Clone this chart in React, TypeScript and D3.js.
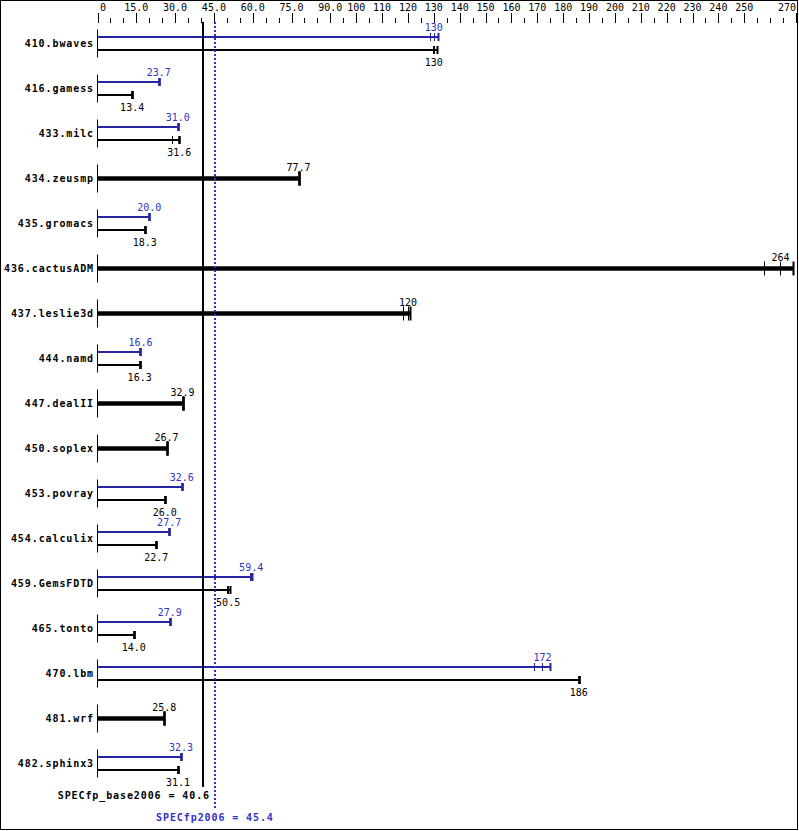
import React from "react";
import * as d3 from "d3";

const benchmarks = [
  "410.bwaves", "416.gamess", "433.milc", "434.zeusmp", "435.gromacs",
  "436.cactusADM", "437.leslie3d", "444.namd", "447.dealII", "450.soplex",
  "453.povray", "454.calculix", "459.GemsFDTD", "465.tonto", "470.lbm",
  "481.wrf", "482.sphinx3",
];

const baseMedian = [130, 13.4, 31.6, 77.7, 18.3, 264, 120, 16.3, 32.9, 26.7, 26.0, 22.7, 50.5, 14.0, 186, 25.8, 31.1];
const peakMedian: (number | null)[] = [130, 23.7, 31.0, null, 20.0, null, null, 16.6, null, null, 32.6, 27.7, 59.4, 27.9, 172, null, 32.3];

const baseRuns = [
  [129.8, 130, 131.2],
  [13.4, 13.4, 13.4],
  [28.9, 31.6, 31.6],
  [77.7, 77.7, 77.7],
  [18.3, 18.3, 18.3],
  [257.5, 264, 268.8],
  [118.1, 120, 120.9],
  [16.3, 16.3, 16.3],
  [32.9, 32.9, 32.9],
  [26.7, 26.7, 26.7],
  [26.0, 26.0, 26.0],
  [22.7, 22.7, 22.7],
  [50.0, 50.5, 51.3],
  [14.0, 14.0, 14.0],
  [186, 186, 186],
  [25.8, 25.8, 25.8],
  [31.1, 31.1, 31.1],
];

const peakRuns: (number[] | null)[] = [
  [128.6, 130, 131.8],
  [23.7, 23.7, 23.7],
  [31.0, 31.0, 31.0],
  null,
  [20.0, 20.0, 20.0],
  null,
  null,
  [16.6, 16.6, 16.6],
  null,
  null,
  [32.6, 32.6, 32.6],
  [27.7, 27.7, 27.7],
  [59.0, 59.4, 59.7],
  [27.9, 27.9, 27.9],
  [168.6, 172, 175.0],
  null,
  [32.3, 32.3, 32.3],
];

const tickValues = [0, 15, 30, 45, 60, 75, 90, 100, 110, 120, 130, 140, 150, 160, 170, 180, 190, 200, 210, 220, 230, 240, 250, 270];
const tickLabels = ["0", "15.0", "30.0", "45.0", "60.0", "75.0", "90.0", "100", "110", "120", "130", "140", "150", "160", "170", "180", "190", "200", "210", "220", "230", "240", "250", "270"];
const minorStep = 5;

const baseScore = 40.6;
const peakScore = 45.4;
const baseScoreLabel = "SPECfp_base2006 = 40.6";
const peakScoreLabel = "SPECfp2006 = 45.4";

const W = 799;
const H = 831;
const BLACK = "#000000";
const BLUE_BAR = "#2626a2";
const BLUE_TEXT = "#3232c4";
const BLUE_DOT = "#2e2ec8";
const MONO = "'DejaVu Sans Mono', 'Liberation Mono', monospace";

export default function App() {
  const x = d3.scaleLinear().domain([0, 270]).range([97.5, 796]);
  const rowY = d3.scaleLinear().domain([0, 1]).range([43.5, 88.5]);
  const fmt = d3.format(".3r");
  const x0 = x(0);

  const minorTicks = d3.range(0, 270 + 0.001, minorStep).filter((v) => !tickValues.includes(v));

  const runTicks = (runs: number[], y: number, half: number, color: string, key: string) => {
    const mx = d3.max(runs) as number;
    return runs.map((r, j) => (
      <line
        key={key + j}
        x1={Math.round(x(r)) + 0.5}
        x2={Math.round(x(r)) + 0.5}
        y1={y - half}
        y2={y + half}
        stroke={color}
        strokeWidth={r === mx ? 2 : 1}
      />
    ));
  };

  return (
    <svg
      width={W}
      height={H}
      style={{ position: "absolute", left: 0, top: 0, background: "#fff" }}
      fontFamily={MONO}
    >
      <rect x={0} y={0} width={W} height={H} fill="#fff" />
      <rect x={0.5} y={0.5} width={797} height={829} fill="none" stroke={BLACK} strokeWidth={1} />

      {/* top axis */}
      {tickValues.map((v, i) => (
        <line key={"mt" + i} x1={Math.round(x(v)) + 0.5} x2={Math.round(x(v)) + 0.5} y1={13} y2={23} stroke={BLACK} strokeWidth={1} />
      ))}
      {minorTicks.map((v, i) => (
        <line key={"nt" + i} x1={Math.round(x(v)) + 0.5} x2={Math.round(x(v)) + 0.5} y1={18} y2={23} stroke={BLACK} strokeWidth={1} />
      ))}
      {tickValues.map((v, i) => {
        const first = i === 0;
        const last = i === tickValues.length - 1;
        return (
          <text
            key={"tl" + i}
            x={first ? x(v) + 2.5 : last ? x(v) : x(v)}
            y={10.5}
            fontSize={10}
            textAnchor={first ? "start" : last ? "end" : "middle"}
            fill={BLACK}
          >
            {tickLabels[i]}
          </text>
        );
      })}

      {/* rows */}
      {benchmarks.map((name, i) => {
        const c = rowY(i);
        const pk = peakRuns[i];
        const bRuns = baseRuns[i];
        const bMax = d3.max(bRuns) as number;
        return (
          <g key={name}>
            <text
              x={94}
              y={c + 3.5}
              fontSize={10}
              fontWeight="bold"
              letterSpacing={0.9}
              textAnchor="end"
              fill={BLACK}
            >
              {name}
            </text>
            <line x1={x0} x2={x0} y1={c - 14} y2={c + 14} stroke={BLACK} strokeWidth={1} />
            {pk ? (
              <g>
                <line x1={x0} x2={x(d3.max(pk) as number)} y1={c - 6.5} y2={c - 6.5} stroke={BLUE_BAR} strokeWidth={2} />
                {runTicks(pk, c - 6.5, 4, BLUE_BAR, "p")}
                <text x={x(peakMedian[i] as number)} y={c - 13} fontSize={10} textAnchor="middle" fill={BLUE_TEXT}>
                  {fmt(peakMedian[i] as number)}
                </text>
                <line x1={x0} x2={x(bMax)} y1={c + 6.5} y2={c + 6.5} stroke={BLACK} strokeWidth={2} />
                {runTicks(bRuns, c + 6.5, 4, BLACK, "b")}
                <text x={x(baseMedian[i])} y={c + 22} fontSize={10} textAnchor="middle" fill={BLACK}>
                  {fmt(baseMedian[i])}
                </text>
              </g>
            ) : (
              <g>
                <line x1={x0} x2={x(bMax)} y1={c} y2={c} stroke={BLACK} strokeWidth={4.5} />
                {runTicks(bRuns, c, 7, BLACK, "s")}
                <text x={x(baseMedian[i])} y={c - 7.5} fontSize={10} textAnchor="middle" fill={BLACK}>
                  {fmt(baseMedian[i])}
                </text>
              </g>
            )}
          </g>
        );
      })}

      {/* reference lines */}
      <line x1={Math.round(x(baseScore))} x2={Math.round(x(baseScore))} y1={22} y2={787} stroke={BLACK} strokeWidth={2} />
      <line
        x1={Math.round(x(peakScore))}
        x2={Math.round(x(peakScore))}
        y1={22}
        y2={808}
        stroke={BLUE_DOT}
        strokeWidth={2}
        strokeDasharray="2,2"
      />
      <text x={210} y={799} fontSize={10} fontWeight="bold" letterSpacing={0.9} textAnchor="end" fill={BLACK}>
        {baseScoreLabel}
      </text>
      <text x={x(peakScore)} y={821} fontSize={10} fontWeight="bold" letterSpacing={0.9} textAnchor="middle" fill={BLUE_TEXT}>
        {peakScoreLabel}
      </text>
    </svg>
  );
}
